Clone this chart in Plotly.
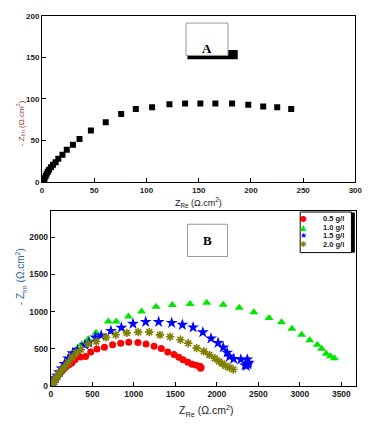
import plotly.graph_objects as go

W, H = 376, 425

# ---- Panel A data ----
a_x = [0.8, 1.6, 2.5, 3.5, 4.5, 5.5, 6.8, 8.5, 10.5, 13, 15.6, 19.6, 23.7, 29.6, 35.9,
       46.8, 61, 75.8, 89.8, 105.4, 122, 137, 151.6, 166, 182, 197.5, 211.8, 225.2, 238.6]
a_y = [0.5, 2, 4.5, 7.5, 10, 12.5, 15, 18, 21, 24, 28, 33, 39, 45, 52,
       62, 72, 82, 88, 90, 93.5, 94.5, 94.5, 94.5, 94.5, 93, 91, 90, 88]

# ---- Panel B data ----
b_names = ["0.5 g/l", "1.0 g/l", "1.5 g/l", "2.0 g/l"]
b05_x = [8, 18, 30, 45, 62, 82, 105, 130, 158, 190, 225, 255, 293, 357, 419, 481, 556, 646, 744,
         842, 939, 1049, 1147, 1244, 1331, 1408, 1484, 1542, 1593, 1651, 1702, 1753, 1796, 1810, 1805]
b05_y = [12, 30, 52, 78, 105, 135, 165, 195, 228, 262, 290, 312, 357, 391, 396, 457, 496, 522, 553,
         574, 588, 584, 566, 535, 505, 457, 423, 388, 353, 318, 292, 279, 266, 250, 239]
b10_x = [10, 22, 38, 55, 75, 100, 130, 165, 205, 250, 300, 372, 450, 545, 693, 787, 935, 1092,
         1268, 1464, 1678, 1878, 2077, 2270, 2446, 2629, 2778, 2904, 3021, 3118, 3209, 3263, 3318, 3369, 3416]
b10_y = [18, 42, 72, 105, 140, 180, 225, 280, 340, 410, 480, 561, 627, 714, 866, 866, 932, 1001,
         1063, 1089, 1102, 1119, 1093, 1050, 992, 912, 856, 768, 689, 614, 553, 499, 433, 400, 374]
b15_x = [10, 22, 38, 55, 75, 100, 130, 165, 210, 263, 321, 411, 458, 536, 607, 724, 850, 990, 1143,
         1299, 1456, 1585, 1714, 1831, 1930, 2015, 2077, 2124, 2152, 2203, 2289, 2367, 2383, 2375, 2355, 2340]
b15_y = [18, 42, 72, 105, 140, 185, 235, 295, 370, 441, 488, 553, 583, 653, 680, 741, 784, 836, 862,
         861, 848, 822, 788, 722, 639, 579, 518, 449, 396, 365, 357, 357, 314, 290, 270, 280]
b20_x = [10, 22, 38, 55, 75, 100, 130, 165, 210, 255, 302, 360, 450, 548, 665, 783, 916, 1053, 1186,
         1315, 1437, 1561, 1655, 1757, 1843, 1910, 1977, 2027, 2066, 2106, 2152, 2199]
b20_y = [15, 38, 65, 95, 128, 165, 210, 260, 320, 385, 444, 488, 566, 597, 653, 688, 714, 724, 724,
         687, 661, 622, 574, 509, 466, 418, 371, 331, 301, 270, 248, 222]

a_xticks = [0, 50, 100, 150, 200, 250, 300]
a_yticks = [0, 50, 100, 150, 200]
b_xticks = [0, 500, 1000, 1500, 2000, 2500, 3000, 3500]
b_yticks = [0, 500, 1000, 1500, 2000]


def px(X):
    return X / W


def py(Y):
    return 1 - Y / H


fig = go.Figure()

fig.add_trace(go.Scatter(x=a_x, y=a_y, mode="markers", xaxis="x", yaxis="y",
                         marker=dict(symbol="square", size=6, color="black"), showlegend=False))

series = [
    (b05_x, b05_y, dict(symbol="circle", size=7, color="#ff0000")),
    (b10_x, b10_y, dict(symbol="triangle-up", size=8, color="#00e600")),
    (b15_x, b15_y, dict(symbol="star", size=9, color="#0000ff")),
    (b20_x, b20_y, dict(symbol="asterisk-open", size=7, color="#808000",
                        line=dict(color="#808000", width=1.6))),
]
for (sx, sy, mk), nm in zip(series, b_names):
    fig.add_trace(go.Scatter(x=sx, y=sy, mode="markers", xaxis="x2", yaxis="y2",
                             marker=mk, name=nm, showlegend=False))

fontA = dict(family="Liberation Sans, Arial", size=8, color="#222", weight="bold")
fontB = dict(family="Liberation Sans, Arial", size=8.5, color="#222", weight="bold")
ax_common = dict(showgrid=False, zeroline=False, showline=True, linecolor="black", linewidth=1,
                 mirror=True, ticks="inside", ticklen=4, tickcolor="black", fixedrange=True)

fig.update_layout(
    width=W, height=H, autosize=False,
    margin=dict(l=0, r=0, t=0, b=0),
    paper_bgcolor="white", plot_bgcolor="white",
    xaxis=dict(domain=[px(41), px(362)], range=[0, 300], tickvals=a_xticks, anchor="y",
               tickfont=fontA, **ax_common),
    yaxis=dict(domain=[py(182), py(12)], range=[0, 200], tickvals=a_yticks, anchor="x",
               tickfont=fontA, **ax_common),
    xaxis2=dict(domain=[px(50), px(363)], range=[0, 3680], tickvals=b_xticks, anchor="y2",
                tickfont=fontB, **ax_common),
    yaxis2=dict(domain=[py(390.3), py(211.5)], range=[0, 2350], tickvals=b_yticks, anchor="x2",
                tickfont=fontB, **ax_common),
)

shapes = []
ann = []

# Panel A label box with shadow
shapes.append(dict(type="rect", xref="paper", yref="paper", x0=px(190), x1=px(241.5),
                   y0=py(56.5), y1=py(47), fillcolor="black", line=dict(width=0)))
shapes.append(dict(type="rect", xref="paper", yref="paper", x0=px(188.5), x1=px(231.5),
                   y0=py(52.5), y1=py(19.5), fillcolor="white", line=dict(color="#999", width=1)))
ann.append(dict(xref="paper", yref="paper", x=px(210), y=py(36), text="<b>A</b>", showarrow=False,
                font=dict(family="Liberation Serif, Times New Roman", size=13, color="black")))

# Panel B label box
shapes.append(dict(type="rect", xref="paper", yref="paper", x0=px(190), x1=px(231),
                   y0=py(258), y1=py(225), fillcolor="white", line=dict(color="#999", width=1)))
ann.append(dict(xref="paper", yref="paper", x=px(210.5), y=py(241.5), text="<b>B</b>", showarrow=False,
                font=dict(family="Liberation Serif, Times New Roman", size=13, color="black")))

# Legend box (manual)
shapes.append(dict(type="rect", xref="paper", yref="paper", x0=px(357.5), x1=px(361.5),
                   y0=py(254), y1=py(213), fillcolor="black", line=dict(width=0)))
shapes.append(dict(type="rect", xref="paper", yref="paper", x0=px(305.5), x1=px(358),
                   y0=py(254), y1=py(212.5), fillcolor="white", line=dict(color="black", width=1)))
leg_syms = ["●", "▲", "★", "✱"]
leg_cols = ["#ff0000", "#00e600", "#0000ff", "#808000"]
leg_rows = [219.5, 228, 236.5, 245.5]
for s, c, nm, Y in zip(leg_syms, leg_cols, b_names, leg_rows):
    ann.append(dict(xref="paper", yref="paper", x=px(315), y=py(Y), text=s, showarrow=False,
                    font=dict(family="DejaVu Sans", size=8, color=c)))
    ann.append(dict(xref="paper", yref="paper", x=px(327), y=py(Y), text="<b>" + nm + "</b>",
                    xanchor="left", showarrow=False,
                    font=dict(family="Liberation Sans, Arial", size=7.5, color="#222")))

# Axis titles
ann.append(dict(xref="paper", yref="paper", x=px(201), y=py(203),
                text="Z<sub>Re</sub> (Ω.cm<sup>2</sup>)", showarrow=False,
                font=dict(family="Liberation Sans, Arial", size=9, color="#222")))
ann.append(dict(xref="paper", yref="paper", x=px(12), y=py(96),
                text="- Z<sub>Im</sub> (Ω.cm<sup>2</sup>)", showarrow=False, textangle=-90,
                font=dict(family="Liberation Sans, Arial", size=8, color="#993333")))
ann.append(dict(xref="paper", yref="paper", x=px(210), y=py(425), yanchor="bottom",
                yshift=-1, text="Z<sub>Re</sub> (Ω.cm<sup>2</sup>)", showarrow=False,
                font=dict(family="Liberation Sans, Arial", size=10.5, color="#222")))
ann.append(dict(xref="paper", yref="paper", x=px(11), y=py(310),
                text="- Z<sub>Im</sub> (Ω.cm<sup>2</sup>)", showarrow=False, textangle=-90,
                font=dict(family="Liberation Sans, Arial", size=10, color="#336699")))

fig.update_layout(shapes=shapes, annotations=ann)
fig.write_html("out.html", config={"displayModeBar": False},
               post_script="document.body.style.margin='0';document.body.style.padding='0';"
                           "document.documentElement.style.overflow='hidden';")
